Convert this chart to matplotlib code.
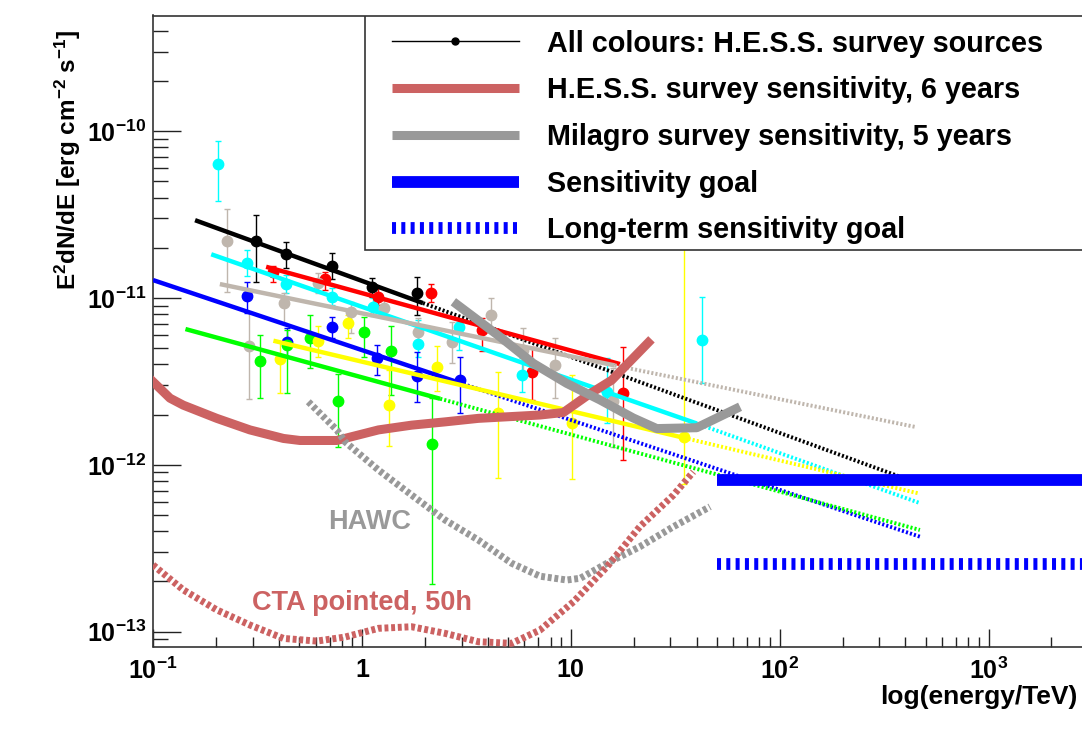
import matplotlib
matplotlib.use("Agg")
import matplotlib.pyplot as plt
import matplotlib.ticker as ticker
from matplotlib.lines import Line2D
from matplotlib.patches import Rectangle

plt.rcParams["font.family"] = ["Liberation Sans", "DejaVu Sans"]
plt.rcParams["font.weight"] = "bold"
plt.rcParams["mathtext.fontset"] = "custom"
plt.rcParams["mathtext.rm"] = "Liberation Sans:bold"
plt.rcParams["mathtext.bf"] = "Liberation Sans:bold"
plt.rcParams["mathtext.it"] = "Liberation Sans:bold"
plt.rcParams["mathtext.default"] = "rm"
plt.rcParams["lines.scale_dashes"] = False

UNIT = 1e-12  # fluxes below are in units of 1e-12 erg cm^-2 s^-1

# ---- H.E.S.S. survey sources (energy TeV, flux, upper and lower error edge) ----
black_e = [0.311, 0.431, 0.716, 1.12, 1.83]
black_f = [22.05, 18.3, 15.62, 11.69, 10.67]
black_hi = [31.4, 21.6, 18.6, 13.13, 13.37]
black_lo = [12.47, 15.19, 13.0, 10.14, 7.91]

red_e = [0.377, 0.665, 1.20, 2.14, 3.75, 6.5, 17.8]
red_f = [14.32, 12.94, 10.18, 10.67, 6.43, 3.62, 2.68]
red_hi = [15.6, 14.38, 11.48, 12.08, 7.59, 5.10, 5.10]
red_lo = [12.47, 11.17, 9.08, 9.50, 4.81, 2.45, 1.07]

cyan_e = [0.204, 0.281, 0.431, 0.716, 1.134, 1.86, 2.93, 5.82, 14.9, 42.3]
cyan_f = [63.3, 16.28, 12.13, 10.18, 8.87, 5.30, 6.73, 3.45, 2.74, 5.60]
cyan_hi = [87.7, 19.4, 13.74, 11.48, 10.0, 7.38, 7.18, 4.37, 4.37, 10.14]
cyan_lo = [38.2, 13.61, 10.72, 9.08, 7.80, 4.43, 4.88, 2.73, 1.78, 3.09]

tan_e = [0.225, 0.289, 0.425, 0.614, 0.887, 1.28, 1.86, 2.69, 4.14, 5.92, 8.40, 16.0]
tan_f = [22.05, 5.18, 9.37, 12.25, 8.21, 8.68, 6.25, 5.47, 7.91, 4.88, 3.97, 2.40]
tan_hi = [34.2, 8.10, 10.72, 14.13, 9.46, 10.0, 7.59, 7.18, 10.0, 6.61, 5.75, 3.80]
tan_lo = [10.86, 2.48, 7.08, 10.72, 6.17, 7.59, 5.23, 4.08, 6.25, 3.36, 2.52, 1.28]

blue_e = [0.283, 0.437, 0.716, 1.18, 1.83, 2.95]
blue_f = [10.32, 5.47, 6.67, 4.35, 3.41, 3.22]
blue_hi = [12.42, 6.61, 7.69, 5.23, 4.75, 4.43]
blue_lo = [8.10, 4.43, 5.75, 3.45, 2.38, 2.04]

green_e = [0.325, 0.437, 0.565, 0.771, 1.02, 1.38, 2.16]
green_f = [4.21, 5.23, 5.73, 2.42, 6.23, 4.81, 1.33]
green_hi = [6.00, 6.43, 7.91, 3.50, 7.69, 6.79, 2.52]
green_lo = [2.52, 2.70, 3.80, 1.28, 4.43, 2.62, 0.193]

yellow_e = [0.406, 0.618, 0.861, 1.35, 2.28, 4.47, 10.1, 35.0]
yellow_f = [4.31, 5.55, 7.05, 2.28, 3.87, 2.06, 1.79, 1.47]
yellow_hi = [5.45, 6.79, 7.91, 3.70, 5.15, 3.60, 3.45, 60.0]
yellow_lo = [2.70, 4.43, 5.75, 1.30, 2.76, 0.834, 0.822, 0.767]

# power-law fits: start, end of data range, end of extrapolation
black_fit_e = [0.159, 1.96, 464]
black_fit_f = [29.3, 9.33, 0.772]
red_fit_e = [0.348, 17.2, 17.2]
red_fit_f = [15.40, 4.02, 4.02]
cyan_fit_e = [0.190, 40.1, 469]
cyan_fit_f = [18.3, 1.77, 0.590]
tan_fit_e = [0.209, 16.2, 444]
tan_fit_f = [12.13, 3.95, 1.69]
blue_fit_e = [0.1, 3.06, 469]
blue_fit_f = [12.82, 3.05, 0.371]
green_fit_e = [0.143, 2.37, 469]
green_fit_f = [6.52, 2.49, 0.407]
yellow_fit_e = [0.377, 35.0, 461]
yellow_fit_f = [5.55, 1.45, 0.675]

# ---- sensitivity curves ----
hess_e = [0.1, 0.108, 0.1206, 0.1396, 0.202, 0.291, 0.421, 0.505, 0.758,
          1.20, 1.73, 2.50, 3.61, 7.12, 9.21, 12.4, 15.7, 23.5]
hess_f = [3.15, 2.87, 2.51, 2.28, 1.90, 1.62, 1.44, 1.40, 1.40,
          1.62, 1.73, 1.81, 1.90, 1.99, 2.06, 2.68, 3.22, 5.41]

milagro_e = [2.74, 4.58, 6.61, 9.56, 13.8, 19.9, 25.8, 40.1, 64.6]
milagro_f = [9.50, 5.86, 4.06, 3.08, 2.45, 1.91, 1.65, 1.67, 2.23]

hawc_e = [0.554, 0.758, 0.830, 1.20, 1.73, 2.50, 3.61, 5.21, 7.12, 9.56,
          11.1, 14.9, 21.4, 31.0, 46.4]
hawc_f = [2.39, 1.62, 1.375, 0.931, 0.659, 0.467, 0.354, 0.257, 0.215, 0.204,
          0.209, 0.257, 0.323, 0.426, 0.561]

cta_e = [0.1, 0.1396, 0.202, 0.291, 0.421, 0.608, 0.830, 1.20, 1.73, 2.50,
         3.61, 5.21, 7.12, 10.3, 14.9, 21.4, 31.0, 38.6]
cta_f = [0.251, 0.178, 0.135, 0.1096, 0.0911, 0.0878, 0.0928, 0.1047, 0.107, 0.0977,
         0.0870, 0.0851, 0.1022, 0.151, 0.245, 0.426, 0.659, 0.909]

goal_e = [50, 1e4]
goal_f = [0.807, 0.807]
longterm_e = [50, 1e4]
longterm_f = [0.256, 0.256]

xtick_vals = [0.1, 1, 10, 100, 1000]
xtick_labels = ["10$^{-1}$", "1", "10", "10$^{2}$", "10$^{3}$"]
ytick_vals = [1e-13, 1e-12, 1e-11, 1e-10]
ytick_labels = ["10$^{-13}$", "10$^{-12}$", "10$^{-11}$", "10$^{-10}$"]

hess_col = "#cc6262"
grey_col = "#999999"

sources = [
    ("#000000", black_e, black_f, black_hi, black_lo, black_fit_e, black_fit_f),
    ("#ff0000", red_e, red_f, red_hi, red_lo, red_fit_e, red_fit_f),
    ("#00ffff", cyan_e, cyan_f, cyan_hi, cyan_lo, cyan_fit_e, cyan_fit_f),
    ("#bfb6ad", tan_e, tan_f, tan_hi, tan_lo, tan_fit_e, tan_fit_f),
    ("#0000ff", blue_e, blue_f, blue_hi, blue_lo, blue_fit_e, blue_fit_f),
    ("#00ff00", green_e, green_f, green_hi, green_lo, green_fit_e, green_fit_f),
    ("#ffff00", yellow_e, yellow_f, yellow_hi, yellow_lo, yellow_fit_e, yellow_fit_f),
]

fig = plt.figure(figsize=(10.82, 7.37), dpi=100)
ax = fig.add_axes([153 / 1082, 90.5 / 737, 1044.5 / 1082, 631 / 737])
ax.set_xscale("log")
ax.set_yscale("log")
ax.set_xlim(0.1, 1e4)
ax.set_ylim(10 ** -13.089, 10 ** -9.306)

# data points
for col, e, f, hi, lo, fe, ff in sources:
    fv = [v * UNIT for v in f]
    err_lo = [(v - l) * UNIT for v, l in zip(f, lo)]
    err_hi = [(h - v) * UNIT for v, h in zip(f, hi)]
    ax.errorbar(e, fv, yerr=[err_lo, err_hi], fmt="o", color=col, ms=7.5,
                elinewidth=1.0, capsize=2.5, capthick=1.0, zorder=2)

# fits: solid over data range, dotted extrapolation
for col, e, f, hi, lo, fe, ff in sources:
    ffv = [v * UNIT for v in ff]
    ax.plot(fe[:2], ffv[:2], color=col, lw=3.2, solid_capstyle="butt", zorder=3)
    ax.plot(fe[1:], ffv[1:], color=col, lw=2.8, dashes=(1.5, 1.5), zorder=3)

ax.plot(hess_e, [v * UNIT for v in hess_f], color=hess_col, lw=6.5,
        solid_joinstyle="round", zorder=4)
ax.plot(milagro_e, [v * UNIT for v in milagro_f], color=grey_col, lw=6.5,
        solid_capstyle="butt", zorder=4)
ax.plot(hawc_e, [v * UNIT for v in hawc_f], color=grey_col, lw=5, dashes=(2.8, 2.0), zorder=4)
ax.plot(cta_e, [v * UNIT for v in cta_f], color=hess_col, lw=5, dashes=(2.8, 2.0), zorder=4)
ax.plot(goal_e, [v * UNIT for v in goal_f], color="#0000ff", lw=8.5,
        solid_capstyle="butt", zorder=5)
ax.plot(longterm_e, [v * UNIT for v in longterm_f], color="#0000ff", lw=8.5,
        dashes=(2.9, 3.8), zorder=5)

ax.text(1.09, 0.454 * UNIT, "HAWC", color=grey_col, fontsize=19.5,
        fontweight="bold", ha="center", va="center", zorder=6)
ax.text(1.0, 0.148 * UNIT, "CTA pointed, 50h", color=hess_col, fontsize=19.5,
        fontweight="bold", ha="center", va="center", zorder=6)

# axes styling (ROOT-like)
ax.set_xticks(xtick_vals, xtick_labels)
ax.set_yticks(ytick_vals, ytick_labels)
ax.xaxis.set_minor_locator(ticker.LogLocator(base=10, subs=range(2, 10), numticks=30))
ax.yaxis.set_minor_locator(ticker.LogLocator(base=10, subs=range(2, 10), numticks=30))
ax.xaxis.set_minor_formatter(ticker.NullFormatter())
ax.yaxis.set_minor_formatter(ticker.NullFormatter())
ax.tick_params(which="both", direction="in", top=False, right=False,
               labelsize=18, width=1.0, color="#222222")
ax.tick_params(axis="x", which="major", length=13, pad=8)
ax.tick_params(axis="x", which="minor", length=7)
ax.tick_params(axis="y", which="major", length=20, pad=5)
ax.tick_params(axis="y", which="minor", length=11)
for sp in ax.spines.values():
    sp.set_linewidth(1.2)
    sp.set_color("#333333")

fig.text(1078 / 1082, 1 - 697 / 737, "log(energy/TeV)", fontsize=19,
         fontweight="bold", ha="right", va="center")
fig.text(68 / 1082, 1 - 30 / 737, "E$^{2}$dN/dE [erg cm$^{-2}$ s$^{-1}$]",
         fontsize=17.5, fontweight="bold", rotation=90, ha="center", va="top")

# legend box (ROOT TLegend look)
ax.add_patch(Rectangle((212 / 1044.5, 1 - 234.5 / 631), 1.0, 234.5 / 631,
                       transform=ax.transAxes, facecolor="white",
                       edgecolor="#333333", lw=1.2, zorder=9))
handles = [
    Line2D([], [], color="black", lw=1.0, marker="o", ms=5),
    Line2D([], [], color=hess_col, lw=6.5, solid_capstyle="butt"),
    Line2D([], [], color=grey_col, lw=6.5, solid_capstyle="butt"),
    Line2D([], [], color="#0000ff", lw=8.5, solid_capstyle="butt"),
    Line2D([], [], color="#0000ff", lw=8.5, dashes=(2.9, 3.8)),
]
labels = [
    "All colours: H.E.S.S. survey sources",
    "H.E.S.S. survey sensitivity, 6 years",
    "Milagro survey sensitivity, 5 years",
    "Sensitivity goal",
    "Long-term sensitivity goal",
]
leg = ax.legend(handles, labels, loc="upper left",
                bbox_to_anchor=(239 / 1044.5, 1 - 14 / 631),
                borderaxespad=0, borderpad=0, fontsize=20.7, handlelength=4.4,
                handletextpad=1.0, labelspacing=0.65, frameon=False,
                numpoints=1)
leg.set_zorder(10)

fig.savefig("out.png", dpi=100)
